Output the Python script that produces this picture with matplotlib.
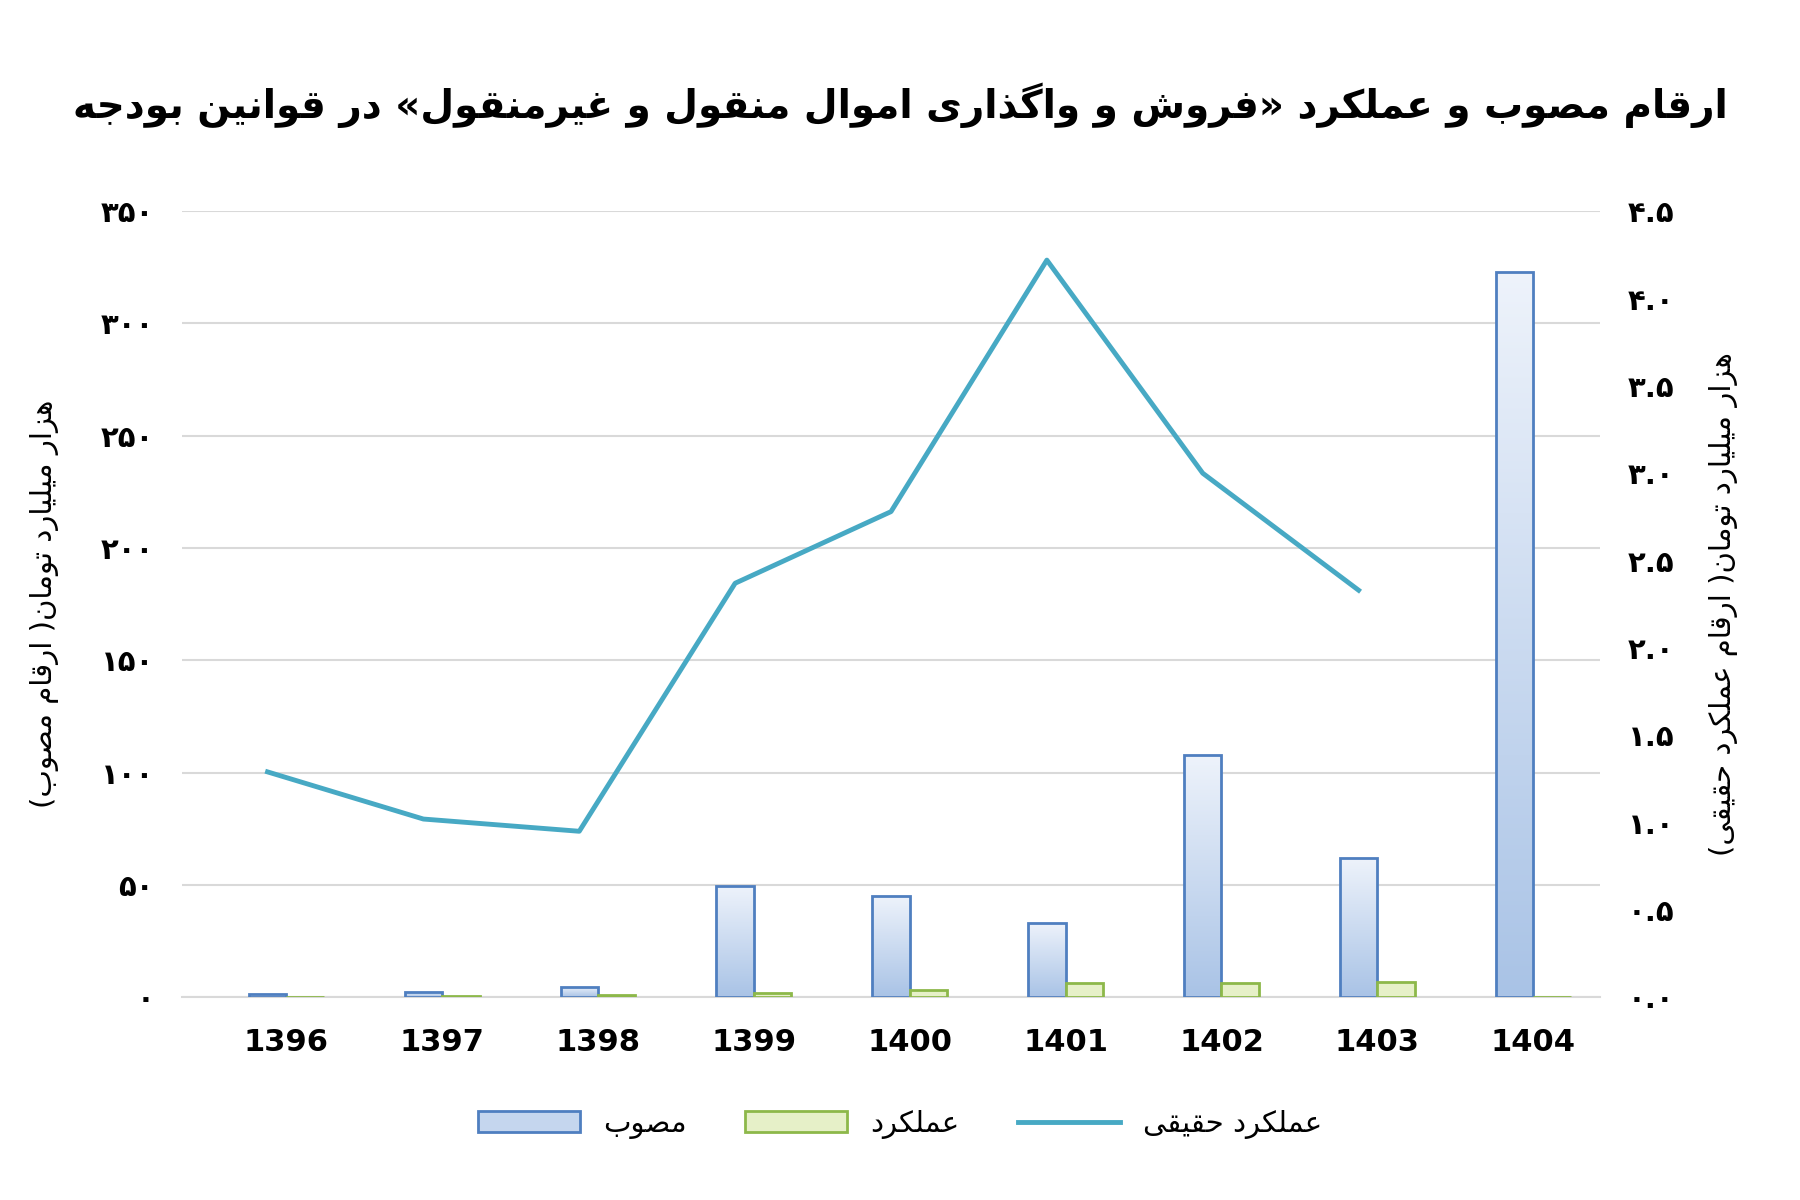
import matplotlib
matplotlib.use("Agg")
import matplotlib.pyplot as plt
import numpy as np

years = ["1396","1397","1398","1399","1400","1401","1402","1403","1404"]
approved = [1.5, 2.5, 4.5, 49.5, 45, 33, 108, 62, 323]
actual = [0.3, 0.5, 0.8, 1.8, 3.0, 6.5, 6.5, 6.8, 0]
real_actual = [1.29, 1.02, 0.95, 2.37, 2.78, 4.22, 3.00, 2.33]
left_ticks = [0, 50, 100, 150, 200, 250, 300, 350]
right_ticks = [0.0, 0.5, 1.0, 1.5, 2.0, 2.5, 3.0, 3.5, 4.0, 4.5]

FORMS = {
 'ا':('\uFE8D','\uFE8E',None,None),'آ':('\uFE81','\uFE82',None,None),
 'ب':('\uFE8F','\uFE90','\uFE91','\uFE92'),'پ':('\uFB56','\uFB57','\uFB58','\uFB59'),
 'ت':('\uFE95','\uFE96','\uFE97','\uFE98'),'ج':('\uFE9D','\uFE9E','\uFE9F','\uFEA0'),
 'ح':('\uFEA1','\uFEA2','\uFEA3','\uFEA4'),'خ':('\uFEA5','\uFEA6','\uFEA7','\uFEA8'),
 'د':('\uFEA9','\uFEAA',None,None),'ذ':('\uFEAB','\uFEAC',None,None),
 'ر':('\uFEAD','\uFEAE',None,None),'ز':('\uFEAF','\uFEB0',None,None),
 'ژ':('\uFB8A','\uFB8B',None,None),'س':('\uFEB1','\uFEB2','\uFEB3','\uFEB4'),
 'ش':('\uFEB5','\uFEB6','\uFEB7','\uFEB8'),'ص':('\uFEB9','\uFEBA','\uFEBB','\uFEBC'),
 'ع':('\uFEC9','\uFECA','\uFECB','\uFECC'),'غ':('\uFECD','\uFECE','\uFECF','\uFED0'),
 'ف':('\uFED1','\uFED2','\uFED3','\uFED4'),'ق':('\uFED5','\uFED6','\uFED7','\uFED8'),
 'ک':('\uFB8E','\uFB8F','\uFB90','\uFB91'),'گ':('\uFB92','\uFB93','\uFB94','\uFB95'),
 'ل':('\uFEDD','\uFEDE','\uFEDF','\uFEE0'),'م':('\uFEE1','\uFEE2','\uFEE3','\uFEE4'),
 'ن':('\uFEE5','\uFEE6','\uFEE7','\uFEE8'),'و':('\uFEED','\uFEEE',None,None),
 'ه':('\uFEE9','\uFEEA','\uFEEB','\uFEEC'),'ی':('\uFBFC','\uFBFD','\uFBFE','\uFBFF'),
}
MIRROR = {'(':')',')':'(','«':'»','»':'«'}

def fa(s):
    out = []
    n = len(s)
    for i, c in enumerate(s):
        if c not in FORMS:
            out.append(MIRROR.get(c, c)); continue
        prev = s[i-1] if i > 0 else ''
        nxt = s[i+1] if i < n-1 else ''
        jp = prev in FORMS and FORMS[prev][2] is not None
        jn = nxt in FORMS and FORMS[c][2] is not None
        f = FORMS[c]
        if jp and jn: out.append(f[3])
        elif jp: out.append(f[1])
        elif jn: out.append(f[2])
        else: out.append(f[0])
    return ''.join(out[::-1])

def fdig(s):
    return s.translate(str.maketrans('0123456789.', '۰۱۲۳۴۵۶۷۸۹.'))

plt.rcParams['font.family'] = ['DejaVu Sans']
fig = plt.figure(figsize=(18, 12), dpi=100)
ax = fig.add_axes([0.101, 0.169, 0.788, 0.655])
ax2 = ax.twinx()

x = np.arange(len(years))
w = 0.24
blue_edge = '#4f7fc0'
green_edge = '#8db84a'
grad = np.linspace(0, 1, 256).reshape(-1, 1)
from matplotlib.colors import LinearSegmentedColormap
cmap_b = LinearSegmentedColormap.from_list('b', ['#a9c3e6', '#eef3fb'])
bars = ax.bar(x, approved, w, facecolor='none', edgecolor=blue_edge, linewidth=2, zorder=3)
for b in bars:
    bx, by, bw, bh = b.get_x(), b.get_y(), b.get_width(), b.get_height()
    im = ax.imshow(grad, extent=[bx, bx+bw, by, by+bh], origin='lower', aspect='auto', cmap=cmap_b, zorder=2)
    im.set_clip_path(b)
ax.bar(x + w, actual, w, facecolor='#e6f0c8', edgecolor=green_edge, linewidth=2, zorder=3)
ax2.plot(x[:len(real_actual)], real_actual, color='#47a9c4', linewidth=3.5, zorder=4)

ax.set_xlim(-0.55, len(years) - 0.45)
ax.set_ylim(0, 350)
ax2.set_ylim(0, 4.5)
ax.set_yticks(left_ticks)
ax.set_yticklabels([fdig(str(t)) for t in left_ticks], fontsize=21, fontweight='bold')
ax2.set_yticks(right_ticks)
ax2.set_yticklabels([fdig(f"{t:.1f}") for t in right_ticks], fontsize=21, fontweight='bold')
ax.set_xticks(x + w/2)
ax.set_xticklabels(years, fontsize=22, fontweight='bold')
ax.grid(axis='y', color='#d9d9d9', linewidth=1.5, zorder=0)
ax.set_axisbelow(True)
for a in (ax, ax2):
    for sp in a.spines.values():
        sp.set_visible(False)
    a.tick_params(length=0, pad=20)
ax.tick_params(axis='x', pad=22)
ax.spines['bottom'].set_visible(True)
ax.spines['bottom'].set_color('#d9d9d9')
ax.spines['bottom'].set_linewidth(1.5)

ax.set_ylabel(fa('هزار میلیارد تومان( ارقام مصوب)'), fontsize=21, labelpad=30)
ax2.set_ylabel(fa('هزار میلیارد تومان( ارقام عملکرد حقیقی)'), fontsize=21, rotation=90, labelpad=25)

fig.text(0.5, 0.912, fa('ارقام مصوب و عملکرد «فروش و واگذاری اموال منقول و غیرمنقول» در قوانین بودجه'),
         ha='center', va='center', fontsize=28, fontweight='bold')

from matplotlib.patches import Patch
from matplotlib.lines import Line2D
handles = [Patch(facecolor='#c5d6ee', edgecolor=blue_edge, linewidth=2),
           Patch(facecolor='#e6f0c8', edgecolor=green_edge, linewidth=2),
           Line2D([0], [0], color='#47a9c4', lw=3.5)]
labels = [fa('مصوب'), fa('عملکرد'), fa('عملکرد حقیقی')]
fig.legend(handles, labels, loc='center', bbox_to_anchor=(0.5, 0.063), ncol=3, frameon=False,
           fontsize=21, handlelength=3.5, columnspacing=2)

fig.savefig('out.png', dpi=100, facecolor='white')
